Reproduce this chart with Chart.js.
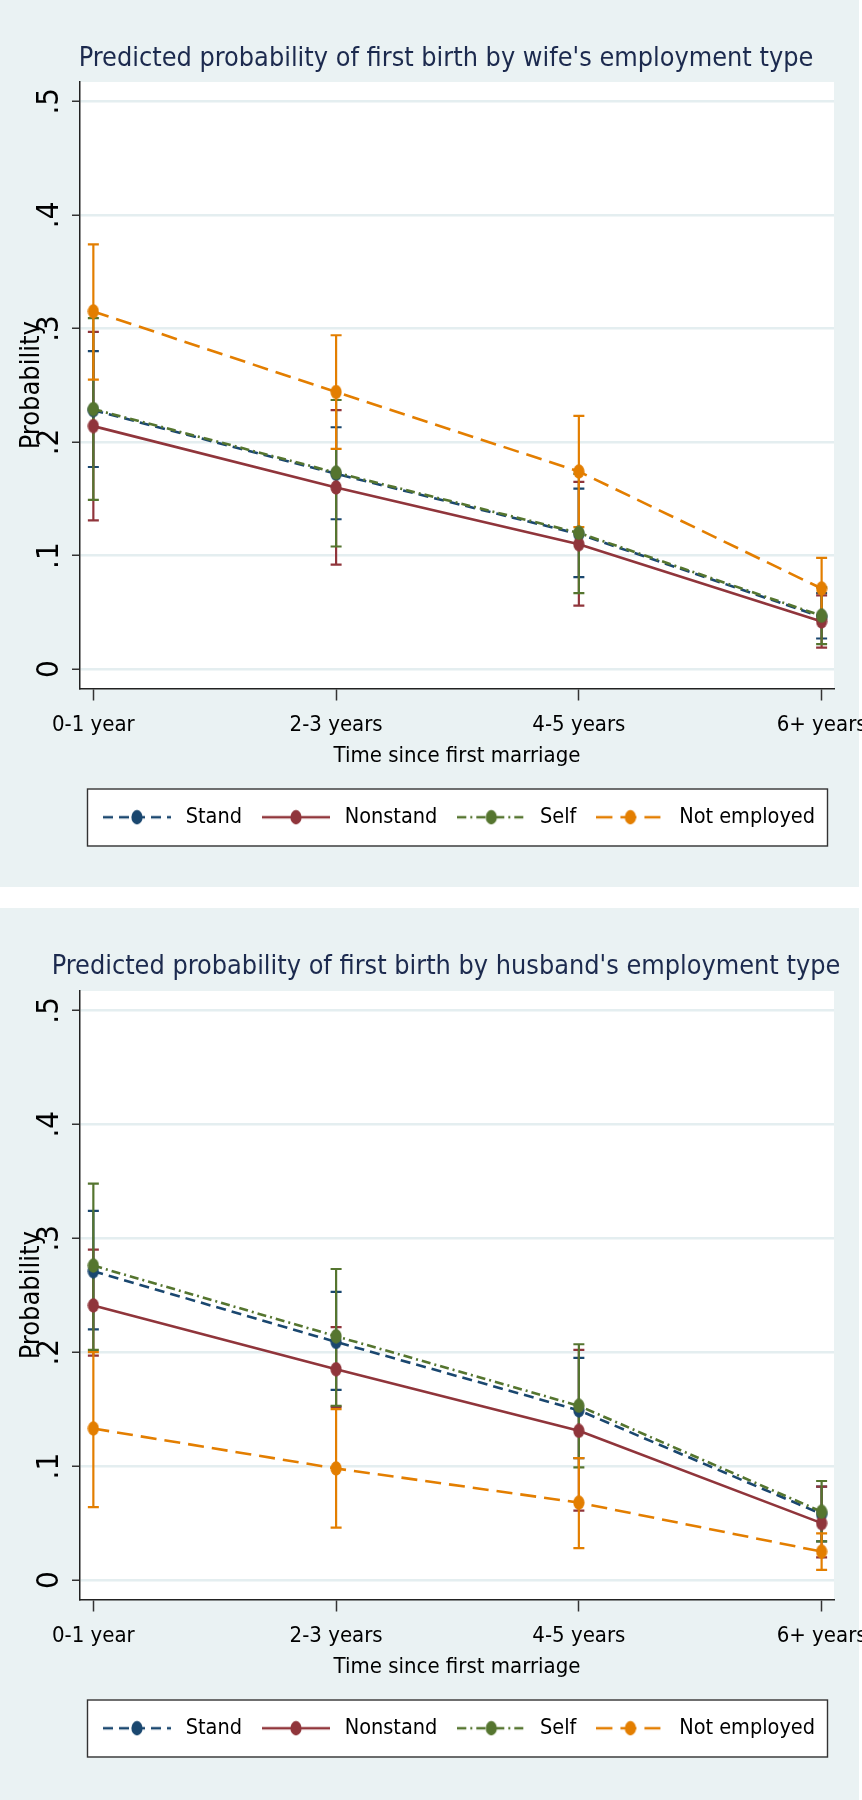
<!DOCTYPE html>
<html><head><meta charset="utf-8">
<script src="https://cdn.jsdelivr.net/npm/chart.js@4.4.1/dist/chart.umd.min.js"></script>
<style>
html,body{margin:0;padding:0;background:#fff;overflow:hidden;}
canvas{display:block;}
#gap{height:21px;}
</style></head><body>
<canvas id="c1" width="862" height="887"></canvas>
<div id="gap"></div>
<canvas id="c2" width="862" height="892"></canvas>
<script>
// ---------- data ----------
const categories = ['0-1 year', '2-3 years', '4-5 years', '6+ years'];
const seriesNames = ['Stand', 'Nonstand', 'Self', 'Not employed'];
const yTickValues = [0, 0.1, 0.2, 0.3, 0.4, 0.5];
const yTickLabels = ['0', '.1', '.2', '.3', '.4', '.5'];
const xTitle = 'Time since first marriage';
const yTitle = 'Probability';
const title1 = "Predicted probability of first birth by wife's employment type";
const title2 = "Predicted probability of first birth by husband's employment type";

// wife's employment type
const wStand    = [0.228, 0.172, 0.119, 0.046];
const wStandLo  = [0.178, 0.132, 0.081, 0.027];
const wStandHi  = [0.280, 0.213, 0.159, 0.067];
const wNon      = [0.214, 0.160, 0.110, 0.042];
const wNonLo    = [0.131, 0.092, 0.056, 0.019];
const wNonHi    = [0.297, 0.228, 0.165, 0.065];
const wSelf     = [0.229, 0.173, 0.120, 0.047];
const wSelfLo   = [0.149, 0.108, 0.067, 0.022];
const wSelfHi   = [0.309, 0.237, 0.172, 0.072];
const wNot      = [0.315, 0.244, 0.174, 0.071];
const wNotLo    = [0.255, 0.194, 0.125, 0.044];
const wNotHi    = [0.374, 0.294, 0.223, 0.098];

// husband's employment type
const hStand    = [0.271, 0.209, 0.149, 0.058];
const hStandLo  = [0.220, 0.167, 0.107, 0.034];
const hStandHi  = [0.324, 0.253, 0.195, 0.082];
const hNon      = [0.241, 0.185, 0.131, 0.050];
const hNonLo    = [0.197, 0.152, 0.061, 0.020];
const hNonHi    = [0.290, 0.222, 0.202, 0.082];
const hSelf     = [0.276, 0.214, 0.153, 0.060];
const hSelfLo   = [0.202, 0.153, 0.099, 0.034];
const hSelfHi   = [0.348, 0.273, 0.207, 0.087];
const hNot      = [0.133, 0.098, 0.068, 0.025];
const hNotLo    = [0.064, 0.046, 0.028, 0.009];
const hNotHi    = [0.200, 0.150, 0.107, 0.041];

// ---------- styles ----------
const FONT = "'Liberation Sans Narrow', 'Arial Narrow', 'DejaVu Sans Condensed', 'Liberation Sans', sans-serif";
const seriesColors = ['#1a476f', '#90353b', '#55752f', '#e37e00'];
const seriesDash = [[10, 6], [], [9, 4, 2, 4], [16, 8]];
const BG = '#eaf2f3';

function markerSprite(color) {
  const c = document.createElement('canvas');
  c.width = 12; c.height = 15;
  const g = c.getContext('2d');
  g.fillStyle = color;
  g.beginPath(); g.ellipse(6, 7.5, 5.6, 7.2, 0, 0, Math.PI * 2); g.fill();
  return c;
}
function legendSprite(color, dash) {
  const c = document.createElement('canvas');
  c.width = 68; c.height = 16;
  const g = c.getContext('2d');
  g.strokeStyle = color; g.lineWidth = 2.4; g.setLineDash(dash);
  g.beginPath(); g.moveTo(0, 8); g.lineTo(68, 8); g.stroke();
  g.setLineDash([]);
  g.fillStyle = color;
  g.beginPath(); g.ellipse(34, 8, 5.6, 7.2, 0, 0, Math.PI * 2); g.fill();
  return c;
}
const markers = seriesColors.map(markerSprite);
const legendSprites = seriesColors.map((c, i) => legendSprite(c, seriesDash[i]));

const panelPlugin = {
  id: 'panel',
  beforeDraw(chart) {
    const {ctx, chartArea: a, legend} = chart;
    ctx.save();
    ctx.fillStyle = BG;
    ctx.fillRect(0, 0, chart.width - 3, chart.height);
    ctx.fillStyle = '#ffffff';
    ctx.fillRect(a.left, a.top, a.right - a.left, a.bottom - a.top);
    const lx = legend.left + 7, ly = legend.top - 2, lw = legend.width - 14, lh = 57;
    ctx.fillRect(lx, ly, lw, lh);
    ctx.strokeStyle = '#333333'; ctx.lineWidth = 1.4;
    ctx.strokeRect(lx + 0.5, ly + 0.5, lw, lh);
    ctx.restore();
  }
};

function pts(vals) { return vals.map((v, i) => ({x: i, y: v})); }
function errPts(lo, hi) {
  const out = [];
  lo.forEach((l, i) => { out.push({x: i, y: l}, {x: i, y: hi[i]}, {x: i, y: null}); });
  return out;
}

function makeChart(id, title, series, opts) {
  const datasets = [];
  series.forEach((s, k) => {
    datasets.push({
      label: seriesNames[k] + ' CI',
      data: errPts(s.lo, s.hi),
      borderColor: seriesColors[k], backgroundColor: seriesColors[k],
      borderWidth: 2.2, spanGaps: false,
      pointStyle: 'line', pointRadius: 5.5, pointBorderWidth: 2.2,
      pointBorderColor: seriesColors[k],
      order: 14 - k
    });
  });
  series.forEach((s, k) => {
    datasets.push({
      label: seriesNames[k],
      data: pts(s.est),
      borderColor: seriesColors[k], backgroundColor: seriesColors[k],
      borderWidth: 2.6, borderDash: seriesDash[k],
      pointStyle: markers[k], pointRadius: 6,
      order: 4 - k
    });
  });
  const legendItems = seriesNames.map((n, k) => ({
    text: n, pointStyle: legendSprites[k], fillStyle: seriesColors[k],
    strokeStyle: seriesColors[k], lineWidth: 0, hidden: false, fontColor: '#000',
    datasetIndex: 4 + k
  }));
  return new Chart(document.getElementById(id), {
    type: 'line',
    data: {datasets},
    options: {
      responsive: false, devicePixelRatio: 1, animation: false, events: [],
      layout: {padding: {top: 0, left: 30, right: 0, bottom: opts.bottomPad}},
      scales: {
        x: {
          type: 'linear', min: -0.055, max: 3.051,
          afterBuildTicks: s => { s.ticks = categories.map((c, i) => ({value: i})); },
          afterFit: s => { s.height = 102; s.paddingRight = 0; s.paddingLeft = 0; },
          ticks: {autoSkip: false, maxRotation: 0, minRotation: 0, padding: 12, color: '#000',
                  font: {family: FONT, size: 22}, callback: (v, i) => categories[i]},
          grid: {display: true, drawOnChartArea: false, drawTicks: true, tickLength: 12,
                 tickColor: '#333', tickWidth: 1.5},
          border: {display: true, color: '#222', width: 1.5},
          title: {display: true, text: xTitle, color: '#000', font: {family: FONT, size: 22},
                  padding: {top: 0, bottom: 21}}
        },
        y: {
          type: 'linear', min: -0.017, max: 0.517,
          afterBuildTicks: s => { s.ticks = yTickValues.map(v => ({value: v})); },
          afterFit: s => { s.width = 50; },
          ticks: {autoSkip: false, minRotation: 90, maxRotation: 90, crossAlign: 'center', padding: 9,
                  color: '#000', font: {family: FONT, size: 31}, callback: (v, i) => yTickLabels[i]},
          grid: {color: '#e4eef0', lineWidth: 2.5, tickLength: 8, tickColor: '#333', tickWidth: 1.5},
          border: {display: true, color: '#222', width: 1.5},
          title: {display: true, text: yTitle, color: '#000', font: {family: FONT, size: 27},
                  padding: {top: -14, bottom: 0}}
        },
        yRight: {
          type: 'linear', position: 'right', display: true,
          grid: {display: false}, ticks: {display: false}, border: {display: false},
          afterFit: s => { s.width = 28; }
        }
      },
      plugins: {
        title: {display: true, text: title, color: '#1c2a4e',
                font: {family: FONT, size: 26.8, weight: 'normal'},
                padding: {top: opts.titleTop, bottom: opts.titleBottom}},
        legend: {display: true, position: 'bottom', fullSize: false,
                 labels: {usePointStyle: true, pointStyleWidth: 76, color: '#000',
                          font: {family: FONT, size: 21.5}, padding: 16,
                          generateLabels: () => legendItems}},
        tooltip: {enabled: false}
      }
    },
    plugins: [panelPlugin]
  });
}

makeChart('c1', title1, [
  {est: wStand, lo: wStandLo, hi: wStandHi},
  {est: wNon, lo: wNonLo, hi: wNonHi},
  {est: wSelf, lo: wSelfLo, hi: wSelfHi},
  {est: wNot, lo: wNotLo, hi: wNotHi}
], {bottomPad: 49, titleTop: 43, titleBottom: 6.8});

makeChart('c2', title2, [
  {est: hStand, lo: hStandLo, hi: hStandHi},
  {est: hNon, lo: hNonLo, hi: hNonHi},
  {est: hSelf, lo: hSelfLo, hi: hSelfHi},
  {est: hNot, lo: hNotLo, hi: hNotHi}
], {bottomPad: 51, titleTop: 43, titleBottom: 7.8});
</script>
</body></html>
